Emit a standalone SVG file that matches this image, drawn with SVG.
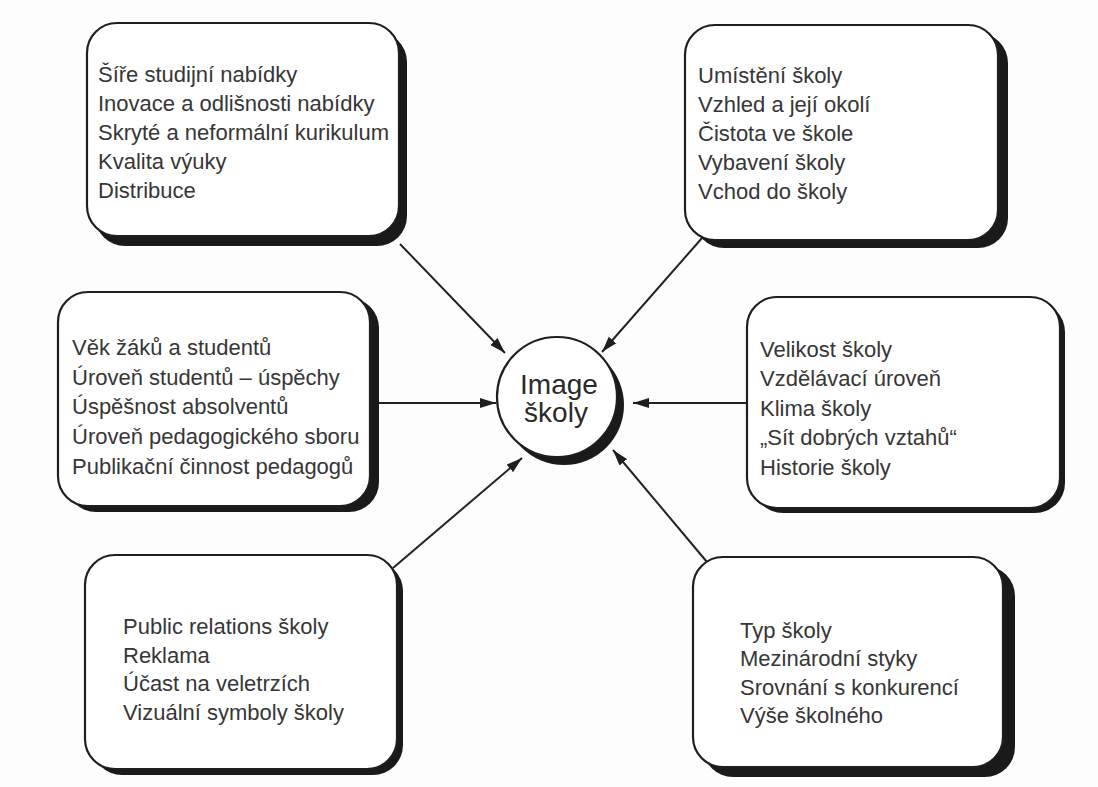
<svg xmlns="http://www.w3.org/2000/svg" width="1098" height="787" viewBox="0 0 1098 787">
<defs>
<style>
.shadow{fill:#1a1a1a;}
.box{fill:#ffffff;stroke:#1e1e1e;stroke-width:2.2;}
.t{font-family:"Liberation Sans",Arial,sans-serif;font-size:22px;fill:#363636;}
.c{font-family:"Liberation Sans",Arial,sans-serif;font-size:28px;fill:#2a2a2a;text-anchor:middle;}
.conn{stroke:#222222;stroke-width:2;fill:none;marker-end:url(#ah);}
</style>
<marker id="ah" viewBox="0 0 16 10" refX="16" refY="5" markerWidth="16" markerHeight="11" markerUnits="userSpaceOnUse" orient="auto">
<path d="M0,0 L16,5 L0,10 z" fill="#1e1e1e"/>
</marker>
</defs>
<rect width="1098" height="787" fill="#fdfdfd"/>

<g id="connectors">
<line class="conn" x1="400" y1="244" x2="505" y2="353"/>
<line class="conn" x1="702" y1="238" x2="602" y2="352"/>
<line class="conn" x1="371" y1="403" x2="496" y2="403"/>
<line class="conn" x1="747" y1="403" x2="633" y2="403"/>
<line class="conn" x1="393" y1="568" x2="522" y2="458"/>
<line class="conn" x1="707" y1="562" x2="613" y2="450"/>
</g>

<g id="box-nabidka">
<rect class="shadow" x="95" y="32" width="312" height="214" rx="30"/>
<rect class="box" x="87" y="23" width="312" height="213" rx="30"/>
<text class="t" x="98" y="82">Šíře studijní nabídky</text>
<text class="t" x="98" y="111">Inovace a odlišnosti nabídky</text>
<text class="t" x="98" y="140">Skryté a neformální kurikulum</text>
<text class="t" x="98" y="169">Kvalita výuky</text>
<text class="t" x="98" y="198">Distribuce</text>
</g>

<g id="box-umisteni">
<rect class="shadow" x="694" y="33" width="314" height="215" rx="30"/>
<rect class="box" x="685" y="25" width="313" height="215" rx="30"/>
<text class="t" x="698" y="83">Umístění školy</text>
<text class="t" x="698" y="112">Vzhled a její okolí</text>
<text class="t" x="698" y="141">Čistota ve škole</text>
<text class="t" x="698" y="170">Vybavení školy</text>
<text class="t" x="698" y="199">Vchod do školy</text>
</g>

<g id="box-studenti">
<rect class="shadow" x="66" y="298" width="313" height="214" rx="30"/>
<rect class="box" x="58" y="292" width="312" height="214" rx="30"/>
<text class="t" x="72" y="355">Věk žáků a studentů</text>
<text class="t" x="72" y="385">Úroveň studentů – úspěchy</text>
<text class="t" x="72" y="414">Úspěšnost absolventů</text>
<text class="t" x="72" y="444">Úroveň pedagogického sboru</text>
<text class="t" x="72" y="474">Publikační činnost pedagogů</text>
</g>

<g id="box-velikost">
<rect class="shadow" x="753" y="302" width="312" height="211" rx="30"/>
<rect class="box" x="747" y="297" width="313" height="211" rx="30"/>
<text class="t" x="760" y="357">Velikost školy</text>
<text class="t" x="760" y="386">Vzdělávací úroveň</text>
<text class="t" x="760" y="416">Klima školy</text>
<text class="t" x="760" y="445">„Sít dobrých vztahů“</text>
<text class="t" x="760" y="475">Historie školy</text>
</g>

<g id="box-pr">
<rect class="shadow" x="92" y="561" width="311" height="214" rx="30"/>
<rect class="box" x="85" y="555" width="312" height="214" rx="30"/>
<text class="t" x="123" y="634">Public relations školy</text>
<text class="t" x="123" y="663">Reklama</text>
<text class="t" x="123" y="691">Účast na veletrzích</text>
<text class="t" x="123" y="720">Vizuální symboly školy</text>
</g>

<g id="box-typ">
<rect class="shadow" x="703" y="566" width="312" height="211" rx="30"/>
<rect class="box" x="693" y="557" width="310" height="210" rx="30"/>
<text class="t" x="740" y="638">Typ školy</text>
<text class="t" x="740" y="666">Mezinárodní styky</text>
<text class="t" x="740" y="695">Srovnání s konkurencí</text>
<text class="t" x="740" y="723">Výše školného</text>
</g>

<g id="center">
<circle cx="564" cy="405" r="60" fill="#1a1a1a"/>
<circle cx="557" cy="397" r="60" fill="#ffffff" stroke="#1e1e1e" stroke-width="2.2"/>
<text class="c" x="559" y="394">Image</text>
<text class="c" x="556" y="422">školy</text>
</g>
</svg>
